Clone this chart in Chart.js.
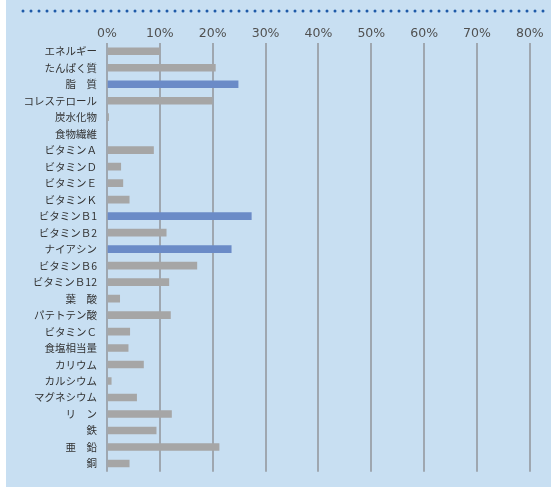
<!DOCTYPE html>
<html>
<head>
<meta charset="utf-8">
<script src="https://cdn.jsdelivr.net/npm/chart.js@4.4.1/dist/chart.umd.min.js"></script>
<style>
  html, body { margin: 0; padding: 0; background: #fff; overflow: hidden; }
  #wrap { width: 551px; height: 488px; }
  canvas { display: block; }
</style>
</head>
<body>
<div id="wrap"><canvas id="chart" width="551" height="488"></canvas></div>
<script>
// nutrients (row labels, top to bottom)
const nutrients = [
  'エネルギー', 'たんぱく質', '脂　質', 'コレステロール', '炭水化物', '食物繊維',
  'ビタミンＡ', 'ビタミンＤ', 'ビタミンＥ', 'ビタミンＫ', 'ビタミンＢ1', 'ビタミンＢ2',
  'ナイアシン', 'ビタミンＢ6', 'ビタミンＢ12', '葉　酸', 'パテトテン酸', 'ビタミンＣ',
  '食塩相当量', 'カリウム', 'カルシウム', 'マグネシウム', 'リ　ン', '鉄', '亜　鉛', '銅'
];
// percent values
const percents = [
  10, 20.5, 24.8, 19.9, 0.3, 0,
  8.8, 2.6, 3.0, 4.2, 27.3, 11.2,
  23.5, 17.0, 11.7, 2.4, 12.0, 4.3,
  4.0, 6.9, 0.8, 5.6, 12.2, 9.3, 21.2, 4.2
];
// highlighted rows (blue bars)
const highlighted = ['脂　質', 'ビタミンＢ1', 'ナイアシン'];

const xTicks = [0, 10, 20, 30, 40, 50, 60, 70, 80];

const GRAY = '#a6a6a6';
const BLUE = '#6b8bc7';

// fond bleu + ligne pointillee en haut
const backdrop = {
  id: 'backdrop',
  beforeDraw(chart) {
    const c = chart.ctx;
    c.save();
    c.fillStyle = '#ffffff';
    c.fillRect(0, 0, chart.width, chart.height);
    c.fillStyle = '#c8dff2';
    c.fillRect(6, 0, chart.width - 6, 487);
    c.fillStyle = '#1f5aa8';
    for (let x = 23; x < chart.width; x += 8) {
      c.beginPath();
      c.arc(x, 11, 1.5, 0, Math.PI * 2);
      c.fill();
    }
    c.restore();
  }
};

const ctx = document.getElementById('chart').getContext('2d');
const chart = new Chart(ctx, {
  type: 'bar',
  data: {
    labels: nutrients,
    datasets: [{
      data: percents,
      backgroundColor: nutrients.map(n => highlighted.includes(n) ? BLUE : GRAY),
      barThickness: 7,
      borderWidth: 0
    }]
  },
  options: {
    indexAxis: 'y',
    responsive: false,
    animation: false,
    layout: { padding: { top: 0, right: 0, bottom: 0.5, left: 0 } },
    plugins: {
      legend: { display: false },
      tooltip: { enabled: false }
    },
    scales: {
      x: {
        position: 'top',
        min: 0,
        max: 84,
        afterBuildTicks: scale => { scale.ticks = xTicks.map(v => ({ value: v })); },
        afterFit: scale => { scale.height = 43; },
        grid: { color: '#9fa7b0', lineWidth: 2, drawTicks: false },
        border: { display: false },
        ticks: {
          padding: 2,
          color: '#505050',
          font: { family: 'DejaVu Sans', size: 12.5 },
          callback: v => v + '%'
        }
      },
      y: {
        afterFit: scale => { scale.width = 107; },
        grid: { display: false, drawTicks: false },
        border: { display: false },
        ticks: {
          padding: 10,
          color: '#333',
          autoSkip: false,
          font: { family: 'Noto Sans CJK JP', size: 10.5 }
        }
      }
    }
  },
  plugins: [backdrop]
});
</script>
</body>
</html>
